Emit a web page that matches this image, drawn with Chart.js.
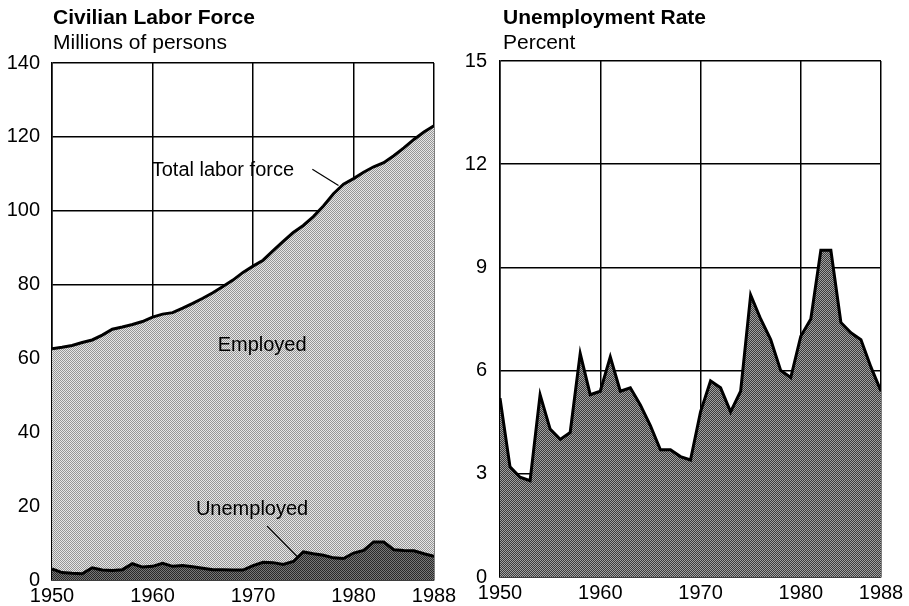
<!DOCTYPE html>
<html>
<head>
<meta charset="utf-8">
<script src="https://cdn.jsdelivr.net/npm/chart.js@4.4.1/dist/chart.umd.min.js"></script>
<style>
  body { margin: 0; background: #fff; font-family: "Liberation Sans", Arial, sans-serif; }
  #wrap { position: relative; width: 909px; height: 606px; overflow: hidden; }
  canvas { position: absolute; top: 0; }
  .title { position: absolute; font-weight: bold; font-size: 21px; line-height: 21px; color: #000; }
  .sub { position: absolute; font-size: 21px; line-height: 21px; color: #000; }
</style>
</head>
<body>
<div id="wrap">
  <canvas id="laborChart" width="480" height="606" style="left:0"></canvas>
  <canvas id="rateChart" width="454" height="606" style="left:455px"></canvas>
  <div class="title" style="left:53px; top:6px">Civilian Labor Force</div>
  <div class="sub" style="left:53px; top:31px">Millions of persons</div>
  <div class="title" style="left:503px; top:6px">Unemployment Rate</div>
  <div class="sub" style="left:503px; top:31px">Percent</div>
</div>
<script>
// data
var years = [1950,1951,1952,1953,1954,1955,1956,1957,1958,1959,
             1960,1961,1962,1963,1964,1965,1966,1967,1968,1969,
             1970,1971,1972,1973,1974,1975,1976,1977,1978,1979,
             1980,1981,1982,1983,1984,1985,1986,1987,1988];

// millions of persons
var totalLabor = [62.6,63.0,63.5,64.3,65.0,66.3,67.9,68.5,69.2,70.0,
                  71.2,72.0,72.4,73.6,74.9,76.3,77.8,79.5,81.2,83.3,
                  85.0,86.6,89.2,91.7,94.1,96.0,98.4,101.3,104.6,107.2,
                  108.7,110.4,111.9,113.0,114.9,117.0,119.3,121.3,123.0];

var unemployed = [3.0,2.0,1.8,1.7,3.3,2.7,2.6,2.8,4.4,3.5,
                  3.7,4.5,3.7,3.9,3.6,3.2,2.8,2.8,2.7,2.7,
                  3.9,4.8,4.7,4.2,5.0,7.6,7.1,6.7,6.0,5.8,
                  7.3,8.0,10.3,10.3,8.2,8.0,7.9,7.1,6.4];

// percent
var unempRate = [5.2,3.2,2.9,2.8,5.3,4.3,4.0,4.2,6.5,5.3,
                 5.4,6.4,5.4,5.5,5.0,4.4,3.7,3.7,3.5,3.4,
                 4.8,5.7,5.5,4.8,5.4,8.2,7.5,6.9,6.0,5.8,
                 7.0,7.5,9.5,9.5,7.4,7.1,6.9,6.1,5.4];

var xTicks = [1950,1960,1970,1980,1988];

var FONT = '"Liberation Sans", Arial, sans-serif';

function toPoints(vals) {
  return years.map(function (y, i) { return { x: y, y: vals[i] }; });
}

// halftone-ish fill
function makePattern(c1, c2) {
  var p = document.createElement('canvas');
  p.width = 2; p.height = 2;
  var g = p.getContext('2d');
  g.fillStyle = c1; g.fillRect(0, 0, 2, 2);
  g.fillStyle = c2; g.fillRect(0, 0, 1, 1); g.fillRect(1, 1, 1, 1);
  return g.createPattern(p, 'repeat');
}

var lightFill = makePattern('#e6e6e6', '#969696');
var darkFill = makePattern('#777777', '#282828');
var rateFill = makePattern('#a0a0a0', '#3c3c3c');

// text labels + leader lines placed in data coordinates
var notes = {
  id: 'notes',
  afterDatasetsDraw: function (chart, args, opts) {
    var ctx = chart.ctx, xs = chart.scales.x, ys = chart.scales.y;
    ctx.save();
    ctx.fillStyle = '#000';
    ctx.strokeStyle = '#000';
    ctx.lineWidth = 1.2;
    ctx.font = '20px ' + FONT;
    ctx.textAlign = 'center';
    ctx.textBaseline = 'middle';
    (opts.items || []).forEach(function (n) {
      ctx.fillText(n.text, xs.getPixelForValue(n.x), ys.getPixelForValue(n.y));
      if (n.line) {
        ctx.beginPath();
        ctx.moveTo(xs.getPixelForValue(n.line[0]), ys.getPixelForValue(n.line[1]));
        ctx.lineTo(xs.getPixelForValue(n.line[2]), ys.getPixelForValue(n.line[3]));
        ctx.stroke();
      }
    });
    ctx.restore();
  }
};

function xAxis(h) {
  return {
    type: 'linear', min: 1950, max: 1988,
    afterBuildTicks: function (s) { s.ticks = xTicks.map(function (v) { return { value: v }; }); },
    afterFit: function (s) { s.height = h; },
    grid: { color: '#000', lineWidth: 1.5, drawTicks: false },
    border: { color: '#000', width: 1.5 },
    ticks: { color: '#000', font: { family: FONT, size: 20 }, padding: 4, maxRotation: 0,
             callback: function (v) { return String(v); } }
  };
}

function yAxis(max, step, w, pad) {
  return {
    min: 0, max: max,
    afterFit: function (s) { s.width = w; },
    grid: { color: '#000', lineWidth: 1.5, drawTicks: false },
    border: { color: '#000', width: 1.5 },
    ticks: { stepSize: step, color: '#000', font: { family: FONT, size: 20 }, padding: pad }
  };
}

new Chart(document.getElementById('laborChart').getContext('2d'), {
  type: 'line',
  data: {
    datasets: [{
      label: 'Unemployed',
      data: toPoints(unemployed),
      fill: 'origin',
      backgroundColor: darkFill,
      borderColor: '#000',
      borderWidth: 3,
      pointRadius: 0,
      tension: 0
    }, {
      label: 'Total labor force',
      data: toPoints(totalLabor),
      fill: 'origin',
      backgroundColor: lightFill,
      borderColor: '#000',
      borderWidth: 3,
      pointRadius: 0,
      tension: 0
    }]
  },
  options: {
    responsive: false,
    animation: false,
    layout: { padding: { left: 0, right: 46, top: 63, bottom: 0 } },
    plugins: {
      legend: { display: false },
      tooltip: { enabled: false },
      notes: { items: [
        { text: 'Total labor force', x: 1967.0, y: 110.8, line: [1975.9, 111.2, 1978.5, 106.8] },
        { text: 'Employed', x: 1970.9, y: 63.4 },
        { text: 'Unemployed', x: 1969.9, y: 19.0, line: [1971.4, 14.6, 1974.4, 6.3] }
      ] }
    },
    scales: { x: xAxis(26), y: yAxis(140, 20, 52, 12) }
  },
  plugins: [notes]
});

new Chart(document.getElementById('rateChart').getContext('2d'), {
  type: 'line',
  data: {
    datasets: [{
      label: 'Unemployment rate',
      data: toPoints(unempRate),
      fill: 'origin',
      backgroundColor: rateFill,
      borderColor: '#000',
      borderWidth: 3,
      pointRadius: 0,
      tension: 0
    }]
  },
  options: {
    responsive: false,
    animation: false,
    layout: { padding: { left: 0, right: 28, top: 61, bottom: 0 } },
    plugins: { legend: { display: false }, tooltip: { enabled: false } },
    scales: { x: xAxis(29), y: yAxis(15, 3, 45, 13) }
  }
});
</script>
</body>
</html>
